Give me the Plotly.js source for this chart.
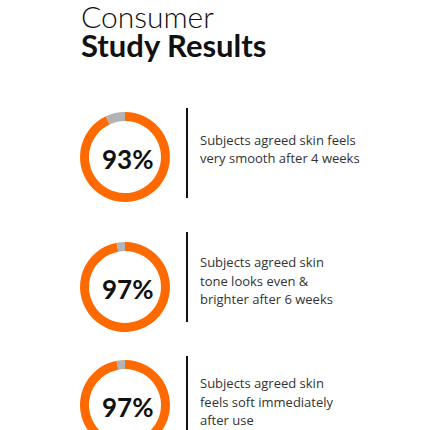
<!DOCTYPE html>
<html><head><meta charset="utf-8">
<script src="https://cdn.plot.ly/plotly-3.0.1.min.js"></script>
<style>html,body{margin:0;padding:0;overflow:hidden;background:#fff}#c{width:430px;height:460px}</style>
</head><body><div id="c"></div>
<script>
const titleLine1 = "Consumer";
const titleLine2 = "Study Results";
const percents = [93, 97, 97];
const percentLabels = ["93%", "97%", "97%"];
const descriptions = [
  "Subjects agreed skin feels<br>very smooth after 4 weeks",
  "Subjects agreed skin<br>tone looks even &<br>brighter after 6 weeks",
  "Subjects agreed skin<br>feels soft immediately<br>after use"
];

const W = 430, H = 460;
const px = x => x / W, py = y => 1 - y / H;
const centersY = [157, 287, 405];
const cx = 125, R = 45;
const ORANGE = "#FF6A00", GRAY = "#B3B3B3";
const FONT = "Lato, 'Open Sans', sans-serif";
const FONT2 = "'Open Sans', Lato, sans-serif";

const data = percents.map((p, i) => ({
  type: "pie",
  values: [p, 100 - p],
  labels: ["Agreed", "Other"],
  sort: false,
  direction: "clockwise",
  rotation: 0,
  hole: 0.8,
  textinfo: "none",
  hoverinfo: "none",
  showlegend: false,
  marker: {colors: [ORANGE, GRAY], line: {width: 0}},
  domain: {x: [px(cx - R), px(cx + R)], y: [py(centersY[i] + R), py(centersY[i] - R)]}
}));

const annotations = [
  {text: titleLine1, x: px(79), y: py(16), xanchor: "left", yanchor: "middle",
   font: {family: FONT, size: 30, color: "#111", weight: 300}, showarrow: false},
  {text: titleLine2, x: px(79), y: py(45), xanchor: "left", yanchor: "middle",
   font: {family: FONT, size: 31, color: "#111", weight: 700}, showarrow: false}
];
const firstLineY = [140, 262, 383];
const lineGap = 18.5;
const shapes = [];
const lineSpans = [[108, 198], [232, 322], [356, 440]];
percents.forEach((p, i) => {
  annotations.push({text: percentLabels[i], x: px(127), y: py(centersY[i] + 2), xanchor: "center", yanchor: "middle",
    font: {family: FONT, size: 26, color: "#111", weight: 700}, showarrow: false});
  descriptions[i].split("<br>").forEach((ln, k) => {
    annotations.push({text: ln, x: px(198), y: py(firstLineY[i] + k * lineGap), xanchor: "left", yanchor: "middle",
      align: "left", font: {family: FONT2, size: 13, color: "#333"}, showarrow: false});
  });
  shapes.push({type: "line", xref: "paper", yref: "paper", x0: px(187), x1: px(187),
    y0: py(lineSpans[i][0]), y1: py(lineSpans[i][1]), line: {color: "#111", width: 2}});
});

Plotly.newPlot("c", data, {
  width: W, height: H, margin: {l: 0, r: 0, t: 0, b: 0},
  paper_bgcolor: "#fff", plot_bgcolor: "#fff",
  annotations, shapes
}, {displayModeBar: false, staticPlot: true});
</script></body></html>
